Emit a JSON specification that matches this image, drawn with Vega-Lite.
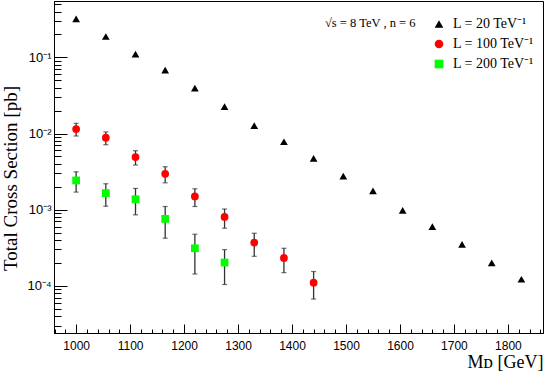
{
  "$schema": "https://vega.github.io/schema/vega-lite/v6.json",
  "autosize": "none",
  "width": 489,
  "height": 332,
  "padding": {"left": 54, "top": 1, "right": 2, "bottom": 39},
  "background": "white",
  "config": {
    "view": {"stroke": "#000", "strokeWidth": 1},
    "axis": {"grid": false, "domainColor": "#000", "tickColor": "#000", "labelColor": "#000", "titleColor": "#000"}
  },
  "data": {
    "values": [
      {"m": 1000, "s": "L = 20 TeV⁻¹", "v": 0.32},
      {"m": 1055, "s": "L = 20 TeV⁻¹", "v": 0.188},
      {"m": 1110, "s": "L = 20 TeV⁻¹", "v": 0.11},
      {"m": 1165, "s": "L = 20 TeV⁻¹", "v": 0.068},
      {"m": 1220, "s": "L = 20 TeV⁻¹", "v": 0.0394},
      {"m": 1275, "s": "L = 20 TeV⁻¹", "v": 0.0225},
      {"m": 1330, "s": "L = 20 TeV⁻¹", "v": 0.0127},
      {"m": 1385, "s": "L = 20 TeV⁻¹", "v": 0.0078},
      {"m": 1440, "s": "L = 20 TeV⁻¹", "v": 0.00472},
      {"m": 1495, "s": "L = 20 TeV⁻¹", "v": 0.00276},
      {"m": 1550, "s": "L = 20 TeV⁻¹", "v": 0.00177},
      {"m": 1605, "s": "L = 20 TeV⁻¹", "v": 0.00098},
      {"m": 1660, "s": "L = 20 TeV⁻¹", "v": 0.0006},
      {"m": 1715, "s": "L = 20 TeV⁻¹", "v": 0.000351},
      {"m": 1770, "s": "L = 20 TeV⁻¹", "v": 0.0002},
      {"m": 1825, "s": "L = 20 TeV⁻¹", "v": 0.000122},
      {"m": 1000, "s": "L = 100 TeV⁻¹", "v": 0.01146, "lo": 0.00927, "hi": 0.0136},
      {"m": 1055, "s": "L = 100 TeV⁻¹", "v": 0.0088, "lo": 0.00713, "hi": 0.0105},
      {"m": 1110, "s": "L = 100 TeV⁻¹", "v": 0.0049, "lo": 0.00386, "hi": 0.00594},
      {"m": 1165, "s": "L = 100 TeV⁻¹", "v": 0.00296, "lo": 0.00225, "hi": 0.00366},
      {"m": 1220, "s": "L = 100 TeV⁻¹", "v": 0.00149, "lo": 0.0011, "hi": 0.00188},
      {"m": 1275, "s": "L = 100 TeV⁻¹", "v": 0.000804, "lo": 0.000571, "hi": 0.00102},
      {"m": 1330, "s": "L = 100 TeV⁻¹", "v": 0.00037, "lo": 0.000244, "hi": 0.00049},
      {"m": 1385, "s": "L = 100 TeV⁻¹", "v": 0.000232, "lo": 0.000149, "hi": 0.000311},
      {"m": 1440, "s": "L = 100 TeV⁻¹", "v": 0.00011, "lo": 0.000067, "hi": 0.000154},
      {"m": 1000, "s": "L = 200 TeV⁻¹", "v": 0.00242, "lo": 0.0017, "hi": 0.00314},
      {"m": 1055, "s": "L = 200 TeV⁻¹", "v": 0.00165, "lo": 0.00111, "hi": 0.00219},
      {"m": 1110, "s": "L = 200 TeV⁻¹", "v": 0.00137, "lo": 0.000855, "hi": 0.0019},
      {"m": 1165, "s": "L = 200 TeV⁻¹", "v": 0.000757, "lo": 0.000422, "hi": 0.0011},
      {"m": 1220, "s": "L = 200 TeV⁻¹", "v": 0.000311, "lo": 0.000143, "hi": 0.000476},
      {"m": 1275, "s": "L = 200 TeV⁻¹", "v": 0.000202, "lo": 0.000104, "hi": 0.000299}
    ]
  },
  "layer": [
    {
      "transform": [{"filter": "isValid(datum.lo)"}],
      "mark": {"type": "rule", "color": "#333", "strokeWidth": 1.3},
      "encoding": {
        "x": {"field": "m", "type": "quantitative", "scale": {"domain": [959, 1865], "nice": false, "zero": false},
          "axis": {"orient": "bottom", "values": [960, 980, 1020, 1040, 1060, 1080, 1120, 1140, 1160, 1180, 1220, 1240, 1260, 1280, 1320, 1340, 1360, 1380, 1420, 1440, 1460, 1480, 1520, 1540, 1560, 1580, 1620, 1640, 1660, 1680, 1720, 1740, 1760, 1780, 1820, 1840, 1860],
            "labels": false, "domain": false, "tickSize": -4, "title": null}},
        "y": {"field": "lo", "type": "quantitative", "scale": {"type": "log", "domain": [0.000024, 0.55], "nice": false},
          "axis": {"orient": "left", "values": [0.00003, 0.00004, 0.00005, 0.00006, 0.00007, 0.00008, 0.00009, 0.0002, 0.0003, 0.0004, 0.0005, 0.0006, 0.0007, 0.0008, 0.0009, 0.002, 0.003, 0.004, 0.005, 0.006, 0.007, 0.008, 0.009, 0.02, 0.03, 0.04, 0.05, 0.06, 0.07, 0.08, 0.09, 0.2, 0.3, 0.4, 0.5],
            "labels": false, "domain": false, "tickSize": -7, "title": null}},
        "y2": {"field": "hi"}
      }
    },
    {
      "transform": [{"filter": "isValid(datum.lo)"}],
      "mark": {"type": "tick", "orient": "horizontal", "color": "#333", "size": 5, "thickness": 1.2},
      "encoding": {
        "x": {"field": "m", "type": "quantitative", "axis": null},
        "y": {"field": "hi", "type": "quantitative", "axis": null}
      }
    },
    {
      "transform": [{"filter": "isValid(datum.lo)"}],
      "mark": {"type": "tick", "orient": "horizontal", "color": "#333", "size": 5, "thickness": 1.2},
      "encoding": {
        "x": {"field": "m", "type": "quantitative", "axis": null},
        "y": {"field": "lo", "type": "quantitative", "axis": null}
      }
    },
    {
      "mark": {"type": "point", "filled": true, "opacity": 1, "size": 60},
      "encoding": {
        "x": {"field": "m", "type": "quantitative",
          "axis": {"orient": "bottom", "values": [1000, 1100, 1200, 1300, 1400, 1500, 1600, 1700, 1800], "format": "d", "tickSize": -9, "labelPadding": 16,
            "labelFont": "Liberation Sans", "labelFontSize": 12, "domainWidth": 1,
            "title": "Mᴅ [GeV]", "titleFont": "Liberation Serif", "titleFontSize": 18, "titleFontWeight": "normal", "titleAnchor": "end", "titlePadding": 2}},
        "y": {"field": "v", "type": "quantitative",
          "axis": {"orient": "left", "values": [0.0001, 0.001, 0.01, 0.1], "tickSize": -13, "labelPadding": 16,
            "labelExpr": "datum.value >= 0.09 ? '10⁻¹' : datum.value >= 0.009 ? '10⁻²' : datum.value >= 0.0009 ? '10⁻³' : '10⁻⁴'",
            "labelFont": "Liberation Sans", "labelFontSize": 13, "domainWidth": 1,
            "title": "Total Cross Section [pb]", "titleFont": "Liberation Serif", "titleFontSize": 19, "titleFontWeight": "normal", "titlePadding": 6, "titleY": 177}},
        "shape": {"field": "s", "type": "nominal",
          "scale": {"domain": ["L = 20 TeV⁻¹", "L = 100 TeV⁻¹", "L = 200 TeV⁻¹"], "range": ["triangle-up", "circle", "square"]}},
        "color": {"field": "s", "type": "nominal",
          "scale": {"domain": ["L = 20 TeV⁻¹", "L = 100 TeV⁻¹", "L = 200 TeV⁻¹"], "range": ["#000000", "#ff0000", "#00ff00"]},
          "legend": {"orient": "none", "legendX": 271, "legendY": 16, "title": "√s = 8 TeV , n = 6", "titleOrient": "left", "titleAnchor": "start", "titleBaseline": "top",
            "titleFont": "Liberation Serif", "titleFontSize": 12.5, "titleFontWeight": "normal", "titleColor": "#000", "titlePadding": 16,
            "labelFont": "Liberation Serif", "labelFontSize": 14, "labelColor": "#000", "symbolSize": 75, "rowPadding": 6, "labelOffset": 7, "padding": 0}}
      }
    }
  ],
  "resolve": {"axis": {"x": "independent", "y": "independent"}}
}
